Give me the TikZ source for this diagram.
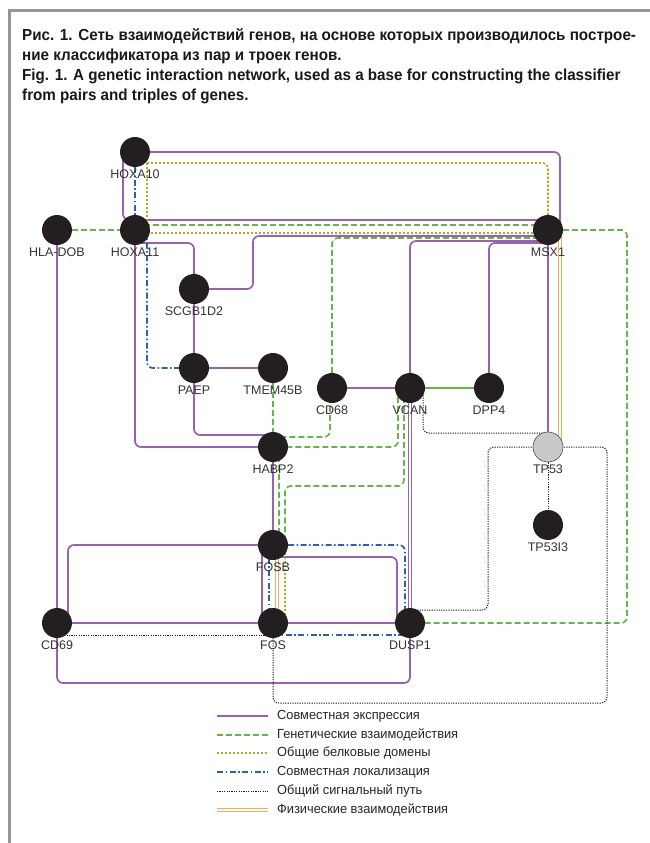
\documentclass[tikz,border=0pt]{standalone}
\usepackage{fontspec}
\setmainfont{Liberation Sans}
\newfontfamily\capfont[FakeStretch=0.95]{Liberation Sans}
\newfontfamily\keyfont[FakeStretch=0.97]{Liberation Sans}
\usetikzlibrary{backgrounds}

\definecolor{coexpc}{RGB}{152,98,172}
\definecolor{genintc}{RGB}{104,180,76}
\definecolor{domainc}{RGB}{184,166,40}
\definecolor{colocc}{RGB}{40,98,180}
\definecolor{pathc}{RGB}{30,30,30}
\definecolor{physc}{RGB}{245,172,96}
\definecolor{nodec}{RGB}{35,31,32}
\definecolor{hubc}{RGB}{200,200,202}
\definecolor{framec}{RGB}{150,150,150}

\begin{document}
\begin{tikzpicture}[x=1pt,y=-1pt,
  gene/.style={circle,fill=nodec,minimum size=30pt,inner sep=0pt,
    label={[genelabel]below:#1}},
  hub/.style={gene=#1,fill=hubc,draw=black!70,line width=0.6pt},
  genelabel/.style={font=\fontsize{12.5}{12.5}\selectfont,text=black!80,
    inner sep=1pt,label distance=1.5pt},
  link/.style={line width=1.7pt,rounded corners=6pt},
  coexp/.style={link,coexpc},
  genint/.style={link,genintc,dash pattern=on 6pt off 3pt},
  sharedom/.style={link,domainc,line width=1.6pt,dash pattern=on 2.2pt off 1.8pt},
  coloc/.style={link,colocc,dash pattern=on 6pt off 2.5pt on 1.5pt off 2.5pt},
  pathway/.style={link,pathc,line width=1pt,dash pattern=on 1.2pt off 1.2pt},
  physint/.style={link,physc,line width=1.1pt,double=white,double distance=1.4pt},
  keytext/.style={anchor=west,font=\keyfont\fontsize{13.2}{13.2}\selectfont,
    text=black!85,inner sep=0pt}]
  \useasboundingbox (0,0) rectangle (650,843);
  % frame
  \draw[framec,line width=3pt] (9.5,843) -- (9.5,10.5) -- (650,10.5);
  % caption
  \node[anchor=north west,align=left,inner sep=0pt,text=black!90,
    font=\capfont\bfseries\fontsize{16}{20}\selectfont] (caption) at (22,28)
    {Рис. 1. Сеть взаимодействий генов, на основе которых производилось построе-\\
     ние классификатора из пар и троек генов.\\
     Fig. 1. A genetic interaction network, used as a base for constructing the classifier\\
     from pairs and triples of genes.};

  % genes
  \node[gene=HOXA10] (hoxa10) at (135,152) {};
  \node[gene=HLA-DOB] (hladob) at (57,230) {};
  \node[gene=HOXA11] (hoxa11) at (135,230) {};
  \node[gene=MSX1] (msx1) at (548,230) {};
  \node[gene=SCGB1D2] (scgb1d2) at (194,289) {};
  \node[gene=PAEP] (paep) at (194,368) {};
  \node[gene=TMEM45B] (tmem45b) at (273,368) {};
  \node[gene=CD68] (cd68) at (332,388) {};
  \node[gene=VCAN] (vcan) at (410,388) {};
  \node[gene=DPP4] (dpp4) at (489,388) {};
  \node[gene=HABP2] (habp2) at (273,447) {};
  \node[hub=TP53] (tp53) at (548,447) {};
  \node[gene=TP53I3] (tp53i3) at (548,525) {};
  \node[gene=FOSB] (fosb) at (273,545) {};
  \node[gene=CD69] (cd69) at (57,623) {};
  \node[gene=FOS] (fos) at (273,623) {};
  \node[gene=DUSP1] (dusp1) at (410,623) {};

  \begin{scope}[on background layer]
    % co-expression
    \draw[coexp] (hoxa10) -| ([xshift=12pt]msx1.center);
    \draw[coexp] ([xshift=-12pt]hoxa10.center) |- ([yshift=10pt]msx1.center);
    \draw[coexp] (hoxa11) |- (habp2);
    \draw[coexp] ([yshift=-13pt]hoxa11.center) -| (scgb1d2);
    \draw[coexp] (scgb1d2) -| (253,236) -- ([yshift=-6pt]msx1.center);
    \draw[coexp] (vcan) |- ([yshift=-11pt]msx1.center);
    \draw[coexp] (dpp4) |- ([yshift=-13pt]msx1.center);
    \draw[coexp] (msx1) -- (tp53);
    \draw[coexp] (scgb1d2) -- (paep) -- (tmem45b);
    \draw[coexp] (paep) |- ([yshift=12pt]habp2.center);
    \draw[coexp] (cd68) -- (vcan);
    \draw[coexp] (hladob) -- (cd69);
    \draw[coexp] (habp2) -- (fosb);
    \draw[coexp] (fosb) -| ([xshift=11pt]cd69.center);
    \draw[coexp] ([yshift=-12pt]fosb.center) -| ([xshift=-13pt]dusp1.center);
    \draw[coexp] ([xshift=-11pt]fosb.center) -- ([xshift=-11pt]fos.center);
    \draw[coexp,line width=1.3pt] ([xshift=-1.5pt]vcan.center) -- ([xshift=-1.5pt]dusp1.center);
    \draw[coexp,line width=1.3pt] ([xshift=1.5pt]vcan.center) -- ([xshift=1.5pt]dusp1.center);
    \draw[coexp] (cd69) -- (fos) -- (dusp1);
    \draw[coexp] (cd69) |- ([yshift=-60pt]dusp1.center) -- (dusp1);
    % genetic interactions
    \draw[genint] (hladob) -- (hoxa11);
    \draw[genint] ([yshift=5pt]hoxa11.center) -- ([yshift=5pt]msx1.center);
    \draw[genint] (cd68) |- ([yshift=-8pt]msx1.center);
    \draw[genint] (msx1) -| ([xshift=217pt]dusp1.center) -- (dusp1);
    \draw[genint] (tmem45b) -- (habp2);
    \draw[genint] ([xshift=-2pt]cd68.center) |- ([yshift=10pt]habp2.center);
    \draw[genint] ([xshift=-12pt]vcan.center) |- (habp2);
    \draw[genint] ([xshift=-6pt]vcan.center) |- (285,486) -- ([xshift=12pt]fosb.center);
    \draw[genint] ([xshift=6pt]habp2.center) -- ([xshift=6pt]fosb.center);
    \draw[genint,solid] (vcan) -- (dpp4);
    % shared protein domains
    \draw[sharedom] ([shift={(12pt,-11pt)}]hoxa10.center) -| (msx1);
    \draw[sharedom] ([shift={(12pt,-11pt)}]hoxa10.center) -- ([shift={(12pt,-3pt)}]hoxa11.center);
    \draw[sharedom] ([yshift=-3pt]hoxa11.center) -- ([yshift=-3pt]msx1.center);
    \draw[sharedom] ([xshift=12pt]fosb.center) -- ([xshift=12pt]fos.center);
    % co-localization
    \draw[coloc] (hoxa10) -- (hoxa11);
    \draw[coloc] ([xshift=12pt]hoxa11.center) |- (paep);
    \draw[coloc] (fosb) -| ([xshift=-5pt]dusp1.center);
    \draw[coloc] ([xshift=-4pt]fosb.center) -- ([xshift=-4pt]fos.center);
    \draw[coloc] ([yshift=-12pt]fos.center) -- ([yshift=-12pt]dusp1.center);
    % shared pathway
    \draw[pathway] ([yshift=-12pt]cd69.center) -- ([yshift=-12pt]fos.center);
    \draw[pathway] (fos) |- ([shift={(59pt,-256pt)}]tp53.center) |- (tp53);
    \draw[pathway] ([yshift=13pt]dusp1.center) -| ([xshift=-60pt]tp53.center) -- (tp53);
    \draw[pathway] ([xshift=13pt]vcan.center) |- ([yshift=14pt]tp53.center);
    \draw[pathway] (tp53) -- (tp53i3);
    % physical interactions
    \draw[physint] ([xshift=12pt]msx1.center) -- ([xshift=12pt]tp53.center);
    \draw[physint] ([xshift=4pt]fosb.center) -- ([xshift=4pt]fos.center);
  \end{scope}

  % legend
  \foreach \st/\ky/\txt [count=\i] in {coexp/716/Совместная экспрессия,
      genint/735/Генетические взаимодействия,
      sharedom/753/Общие белковые домены,
      coloc/772/Совместная локализация,
      pathway/791/Общий сигнальный путь,
      physint/810/Физические взаимодействия} {
    \coordinate (key\i a) at (217,\ky);
    \coordinate (key\i b) at (268,\ky);
    \draw[\st] (key\i a) -- (key\i b);
    \node[keytext] (keytxt\i) at (277,\ky) {\txt};
  }
\end{tikzpicture}
\end{document}
